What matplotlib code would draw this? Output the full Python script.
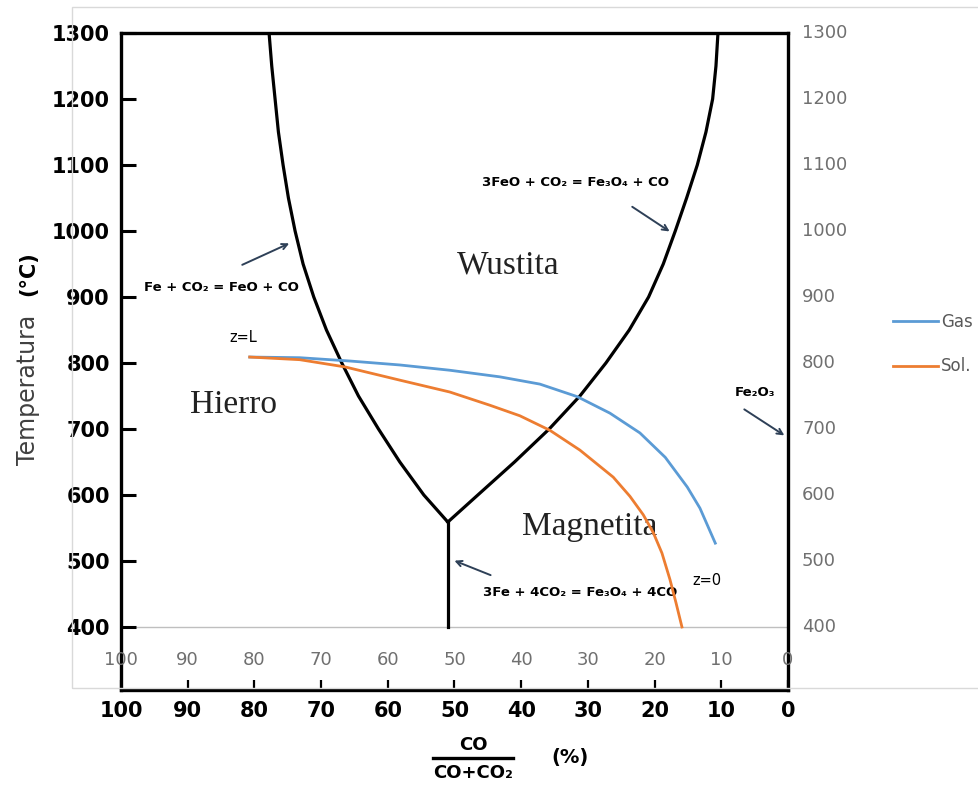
import matplotlib.pyplot as plt
from matplotlib.patches import Rectangle

SERIF = ['Liberation Serif', 'DejaVu Serif']

# phase boundaries (CO %, temperature °C)
fe_feo_co = [77.8, 77.4, 76.9, 76.4, 75.7, 74.9, 73.9, 72.7, 71.1, 69.2, 66.9, 64.4, 61.4, 58.2, 54.6, 51.0]
fe_feo_t = [1300, 1250, 1200, 1150, 1100, 1050, 1000, 950, 900, 850, 800, 750, 700, 650, 600, 559]

feo_mag_co = [51.0, 46.5, 41.0, 35.8, 31.2, 27.3, 23.8, 20.9, 18.7, 16.9, 15.2, 13.6, 12.3, 11.3, 10.8, 10.5]
feo_mag_t = [559, 600, 650, 700, 750, 800, 850, 900, 950, 1000, 1050, 1100, 1150, 1200, 1250, 1300]

fe_mag_co = [51.0, 51.0]
fe_mag_t = [559, 400]

# reactor profiles from z=L to z=0
gas_co = [80.7, 73.2, 65.7, 58.2, 50.7, 43.2, 37.2, 31.6, 26.7, 22.2, 18.4, 15.1, 13.2, 10.9]
gas_t = [809, 808, 803, 797, 789, 779, 768, 749, 724, 694, 657, 612, 580, 527]

sol_co = [80.7, 73.2, 66.4, 58.2, 50.7, 44.7, 40.2, 35.7, 31.2, 26.2, 23.7, 21.7, 20.2, 18.9, 17.7, 16.8, 15.9]
sol_t = [809, 805, 794, 774, 756, 736, 720, 698, 668, 627, 598, 570, 543, 512, 472, 437, 400]

co_ticks = [100, 90, 80, 70, 60, 50, 40, 30, 20, 10, 0]
t_ticks = [400, 500, 600, 700, 800, 900, 1000, 1100, 1200, 1300]

fig = plt.figure(figsize=(9.79, 7.87), dpi=100)

# light chart-area border
fig.patches.append(Rectangle((72 / 979, 99 / 787), 1.0, 681 / 787, transform=fig.transFigure,
                             fill=False, edgecolor='#d9d9d9', lw=1, zorder=0))

ax = fig.add_axes([121 / 979, 97 / 787, 667 / 979, 657 / 787])
ax.set_xlim(100, 0)
ax.set_ylim(304.5, 1300)

for s in ax.spines.values():
    s.set_linewidth(2.4)
    s.set_color('black')

ax.set_yticks(t_ticks)
ax.set_yticklabels([str(t) for t in t_ticks], fontweight='bold', fontsize=15)
ax.set_xticks(co_ticks)
ax.set_xticklabels([str(c) for c in co_ticks], fontweight='bold', fontsize=15)
ax.tick_params(axis='y', direction='in', length=11, width=2.2, pad=8)
ax.tick_params(axis='x', direction='in', length=7, width=1.6, pad=8)

# chart axis for the overlaid profiles
ax.axhline(400, color='#bfbfbf', lw=1, zorder=1)
for c in co_ticks:
    ax.text(c, 350, str(c), ha='center', va='center', fontsize=13, color='#707070')
for t in t_ticks:
    ax.text(1.021, t, str(t), transform=ax.get_yaxis_transform(), ha='left', va='center',
            fontsize=13, color='#707070')

ax.plot(fe_feo_co, fe_feo_t, color='black', lw=2.3, zorder=3)
ax.plot(feo_mag_co, feo_mag_t, color='black', lw=2.3, zorder=3)
ax.plot(fe_mag_co, fe_mag_t, color='black', lw=2.3, zorder=3)

gas, = ax.plot(gas_co, gas_t, color='#5B9BD5', lw=2, label='Gas', zorder=4)
sol, = ax.plot(sol_co, sol_t, color='#ED7D31', lw=2, label='Sol.', zorder=4)

# phase names
ax.text(42.0, 948, 'Wustita', family=SERIF, fontsize=24, ha='center', va='center', color='#222222')
ax.text(83.2, 736, 'Hierro', family=SERIF, fontsize=24, ha='center', va='center', color='#222222')
ax.text(29.7, 552, 'Magnetita', family=SERIF, fontsize=24, ha='center', va='center', color='#222222')

ax.text(81.7, 838, 'z=L', fontsize=10.5, ha='center', va='center')
ax.text(12.1, 470, 'z=0', fontsize=10.5, ha='center', va='center')

arrow = dict(arrowstyle='->', color='#2e4057', lw=1.4)
eq = dict(fontsize=9.5, fontweight='bold', ha='center', va='center')
ax.text(84.9, 914, 'Fe + CO₂ = FeO + CO', **eq)
ax.annotate('', xy=(74.4, 983), xytext=(82.2, 947), arrowprops=arrow)
ax.text(31.8, 1073, '3FeO + CO₂ = Fe₃O₄ + CO', **eq)
ax.annotate('', xy=(17.4, 997), xytext=(23.7, 1039), arrowprops=arrow)
ax.text(31.2, 452, '3Fe + 4CO₂ = Fe₃O₄ + 4CO', **eq)
ax.annotate('', xy=(50.4, 502), xytext=(44.2, 477), arrowprops=arrow)
ax.text(4.9, 756, 'Fe₂O₃', **eq)
ax.annotate('', xy=(0.2, 688), xytext=(6.9, 732), arrowprops=arrow)

# axis titles
fig.text(28 / 979, 1 - 390 / 787, 'Temperatura', rotation=90, ha='center', va='center',
         fontsize=17, color='#404040')
fig.text(28 / 979, 1 - 274 / 787, '(°C)', rotation=90, ha='center', va='center',
         fontsize=15, fontweight='bold')
fig.text(473 / 979, 1 - 745 / 787, 'CO', ha='center', va='center', fontsize=13,
         fontweight='bold')
fig.add_artist(plt.Line2D([433 / 979, 513 / 979], [1 - 758 / 787, 1 - 758 / 787], color='black', lw=2.4))
fig.text(473 / 979, 1 - 773 / 787, 'CO+CO₂', ha='center', va='center', fontsize=13,
         fontweight='bold')
fig.text(570 / 979, 1 - 758 / 787, '(%)', ha='center', va='center', fontsize=14,
         fontweight='bold')

fig.legend(handles=[gas, sol], loc='center left', bbox_to_anchor=(878 / 979, 1 - 344 / 787),
           frameon=False, fontsize=12, handlelength=2.7, handletextpad=0.2, labelspacing=1.6,
           labelcolor='#595959')

fig.savefig('out.png', dpi=100)
